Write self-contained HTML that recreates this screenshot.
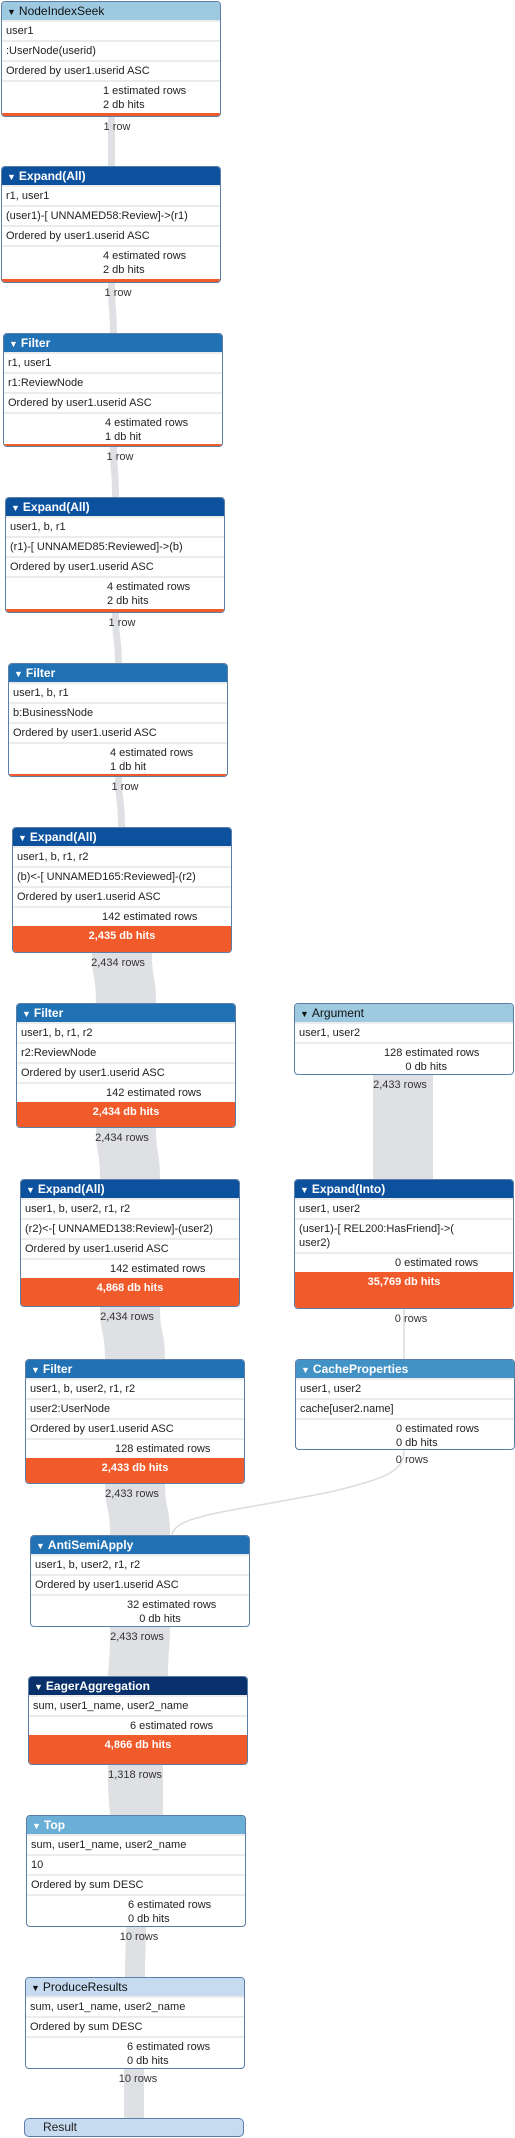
<!DOCTYPE html>
<html><head><meta charset="utf-8"><style>
*{box-sizing:border-box;margin:0;padding:0}
body{width:515px;height:2138px;position:relative;background:#fff;font-family:"Liberation Sans",Arial,sans-serif;font-size:11px;color:#222;overflow:hidden}
.b{position:absolute;width:220px;background:#fff;border:1px solid #5b7ea6;border-radius:4px;overflow:hidden;display:flex;flex-direction:column}
.h{height:18px;line-height:18px;padding-left:5px;font-size:12px;color:#fff;font-weight:bold;flex:none}
.h.lt{color:#111;font-weight:normal}
.h span{font-size:9px;margin-right:3px}
.r{height:20px;line-height:19px;padding-left:4px;border-top:2px solid #ececec;flex:none;white-space:nowrap}
.r:first-of-type{border-top:none}
.s{padding-top:2px;line-height:14px;border-top:2px solid #ececec;flex:none}
.s1{height:20px;line-height:18px;border-top:2px solid #ececec;flex:none}
.o{background:#f15a2b;color:#fff;font-weight:bold;text-align:center;flex:1;padding-top:2px;line-height:16px}
.bar{background:#f15a2b;height:3px;margin-top:auto;flex:none}
.l{position:absolute;width:80px;text-align:center;font-size:11px;color:#333}
</style></head><body>
<svg width="515" height="2138" style="position:absolute;left:0;top:0">
<g fill="#dfe0e3">
<path d="M108 117 C108 140 108 140 108 166 L115 166 C115 140 115 140 115 117Z"/>
<path d="M108 283 C108 310 110 310 110 333 L117 333 C117 310 115 310 115 283Z"/>
<path d="M110 447 C110 470 112 470 112 497 L119 497 C119 470 117 470 117 447Z"/>
<path d="M112 613 C112 640 115 640 115 663 L122 663 C122 640 119 640 119 613Z"/>
<path d="M115 777 C115 800 118 800 118 827 L125 827 C125 800 122 800 122 777Z"/>
<path d="M92 953 C92 980 96 975 96 1003 L156 1003 C156 975 152 980 152 953Z"/>
<path d="M96 1128 C96 1155 100 1150 100 1179 L160 1179 C160 1150 156 1155 156 1128Z"/>
<path d="M100 1307 C100 1335 105 1330 105 1359 L165 1359 C165 1330 160 1335 160 1307Z"/>
<path d="M105 1484 C105 1510 110 1505 110 1535 L170 1535 C170 1505 165 1510 165 1484Z"/>
<path d="M110 1627 C110 1650 110 1650 108 1676 L168 1676 C168 1650 170 1650 170 1627Z"/>
<path d="M108 1765 C108 1790 108 1790 110 1815 L163 1815 C163 1790 163 1790 163 1765Z"/>
<path d="M126 1927 C126 1950 125 1950 125 1977 L145 1977 C145 1950 146 1950 146 1927Z"/>
<path d="M124 2069 C124 2090 124 2090 124 2118 L144 2118 C144 2090 144 2090 144 2069Z"/>
<path d="M373 1075 L373 1179 L433 1179 L433 1075Z"/>
</g>
<path d="M404 1309 L404 1359" stroke="#dcdcdc" stroke-width="1.5" fill="none"/>
<path d="M404 1450 C404 1470 390 1478 330 1492 C230 1512 175 1515 172 1535" stroke="#dcdcdc" stroke-width="1.5" fill="none"/>
</svg>

<div class="b" style="left:1px;top:1px;height:116px"><div class="h lt" style="background:#9ecae1"><span>▼</span>NodeIndexSeek</div><div class="r">user1</div><div class="r">:UserNode(userid)</div><div class="r">Ordered by user1.userid ASC</div><div class="s" style="padding-left:101px">1 estimated rows<br>2 db hits</div><div class="bar"></div></div>
<div class="l" style="left:77px;top:121px">1 row</div>

<div class="b" style="left:1px;top:166px;height:117px"><div class="h" style="background:#0b519d"><span>▼</span>Expand(All)</div><div class="r">r1, user1</div><div class="r">(user1)-[ UNNAMED58:Review]-&gt;(r1)</div><div class="r">Ordered by user1.userid ASC</div><div class="s" style="padding-left:101px">4 estimated rows<br>2 db hits</div><div class="bar"></div></div>
<div class="l" style="left:78px;top:287px">1 row</div>

<div class="b" style="left:3px;top:333px;height:114px"><div class="h" style="background:#2171b5"><span>▼</span>Filter</div><div class="r">r1, user1</div><div class="r">r1:ReviewNode</div><div class="r">Ordered by user1.userid ASC</div><div class="s" style="padding-left:101px">4 estimated rows<br>1 db hit</div><div class="bar"></div></div>
<div class="l" style="left:80px;top:451px">1 row</div>

<div class="b" style="left:5px;top:497px;height:116px"><div class="h" style="background:#0b519d"><span>▼</span>Expand(All)</div><div class="r">user1, b, r1</div><div class="r">(r1)-[ UNNAMED85:Reviewed]-&gt;(b)</div><div class="r">Ordered by user1.userid ASC</div><div class="s" style="padding-left:101px">4 estimated rows<br>2 db hits</div><div class="bar"></div></div>
<div class="l" style="left:82px;top:617px">1 row</div>

<div class="b" style="left:8px;top:663px;height:114px"><div class="h" style="background:#2171b5"><span>▼</span>Filter</div><div class="r">user1, b, r1</div><div class="r">b:BusinessNode</div><div class="r">Ordered by user1.userid ASC</div><div class="s" style="padding-left:101px">4 estimated rows<br>1 db hit</div><div class="bar"></div></div>
<div class="l" style="left:85px;top:781px">1 row</div>

<div class="b" style="left:12px;top:827px;height:126px"><div class="h" style="background:#0b519d"><span>▼</span>Expand(All)</div><div class="r">user1, b, r1, r2</div><div class="r">(b)&lt;-[ UNNAMED165:Reviewed]-(r2)</div><div class="r">Ordered by user1.userid ASC</div><div class="s1" style="padding-left:89px">142 estimated rows</div><div class="o">2,435 db hits</div></div>
<div class="l" style="left:78px;top:957px">2,434 rows</div>

<div class="b" style="left:16px;top:1003px;height:125px"><div class="h" style="background:#2171b5"><span>▼</span>Filter</div><div class="r">user1, b, r1, r2</div><div class="r">r2:ReviewNode</div><div class="r">Ordered by user1.userid ASC</div><div class="s1" style="padding-left:89px">142 estimated rows</div><div class="o">2,434 db hits</div></div>
<div class="l" style="left:82px;top:1132px">2,434 rows</div>

<div class="b" style="left:20px;top:1179px;height:128px"><div class="h" style="background:#0b519d"><span>▼</span>Expand(All)</div><div class="r">user1, b, user2, r1, r2</div><div class="r">(r2)&lt;-[ UNNAMED138:Review]-(user2)</div><div class="r">Ordered by user1.userid ASC</div><div class="s1" style="padding-left:89px">142 estimated rows</div><div class="o">4,868 db hits</div></div>
<div class="l" style="left:87px;top:1311px">2,434 rows</div>

<div class="b" style="left:25px;top:1359px;height:125px"><div class="h" style="background:#2171b5"><span>▼</span>Filter</div><div class="r">user1, b, user2, r1, r2</div><div class="r">user2:UserNode</div><div class="r">Ordered by user1.userid ASC</div><div class="s1" style="padding-left:89px">128 estimated rows</div><div class="o">2,433 db hits</div></div>
<div class="l" style="left:92px;top:1488px">2,433 rows</div>

<div class="b" style="left:30px;top:1535px;height:92px"><div class="h" style="background:#2171b5"><span>▼</span>AntiSemiApply</div><div class="r">user1, b, user2, r1, r2</div><div class="r">Ordered by user1.userid ASC</div><div class="s" style="padding-left:96px">32 estimated rows<br>&nbsp;&nbsp;&nbsp;&nbsp;0 db hits</div></div>
<div class="l" style="left:97px;top:1631px">2,433 rows</div>

<div class="b" style="left:28px;top:1676px;height:89px"><div class="h" style="background:#08306b"><span>▼</span>EagerAggregation</div><div class="r">sum, user1_name, user2_name</div><div class="s1" style="padding-left:101px">6 estimated rows</div><div class="o">4,866 db hits</div></div>
<div class="l" style="left:95px;top:1769px">1,318 rows</div>

<div class="b" style="left:26px;top:1815px;height:112px"><div class="h" style="background:#6baed6"><span>▼</span>Top</div><div class="r">sum, user1_name, user2_name</div><div class="r">10</div><div class="r">Ordered by sum DESC</div><div class="s" style="padding-left:101px">6 estimated rows<br>0 db hits</div></div>
<div class="l" style="left:99px;top:1931px">10 rows</div>

<div class="b" style="left:25px;top:1977px;height:92px"><div class="h lt" style="background:#c6dbef"><span>▼</span>ProduceResults</div><div class="r">sum, user1_name, user2_name</div><div class="r">Ordered by sum DESC</div><div class="s" style="padding-left:101px">6 estimated rows<br>0 db hits</div></div>
<div class="l" style="left:98px;top:2073px">10 rows</div>

<div class="b" style="left:24px;top:2118px;height:19px;background:#c6dbef;border-radius:5px"><div style="line-height:17px;padding-left:18px;font-size:12px">Result</div></div>

<div class="b" style="left:294px;top:1003px;height:72px"><div class="h lt" style="background:#9ecae1"><span>▼</span>Argument</div><div class="r">user1, user2</div><div class="s" style="padding-left:89px">128 estimated rows<br>&nbsp;&nbsp;&nbsp;&nbsp;&nbsp;&nbsp;&nbsp;0 db hits</div></div>
<div class="l" style="left:360px;top:1079px">2,433 rows</div>

<div class="b" style="left:294px;top:1179px;height:130px"><div class="h" style="background:#0b519d"><span>▼</span>Expand(Into)</div><div class="r">user1, user2</div><div class="r" style="height:34px;line-height:14px;padding-top:2px;white-space:normal">(user1)-[ REL200:HasFriend]-&gt;(<br>user2)</div><div class="s1" style="padding-left:100px">0 estimated rows</div><div class="o">35,769 db hits</div></div>
<div class="l" style="left:371px;top:1313px">0 rows</div>

<div class="b" style="left:295px;top:1359px;height:91px"><div class="h" style="background:#4292c6"><span>▼</span>CacheProperties</div><div class="r">user1, user2</div><div class="r">cache[user2.name]</div><div class="s" style="padding-left:100px">0 estimated rows<br>0 db hits</div></div>
<div class="l" style="left:372px;top:1454px">0 rows</div>
</body></html>
